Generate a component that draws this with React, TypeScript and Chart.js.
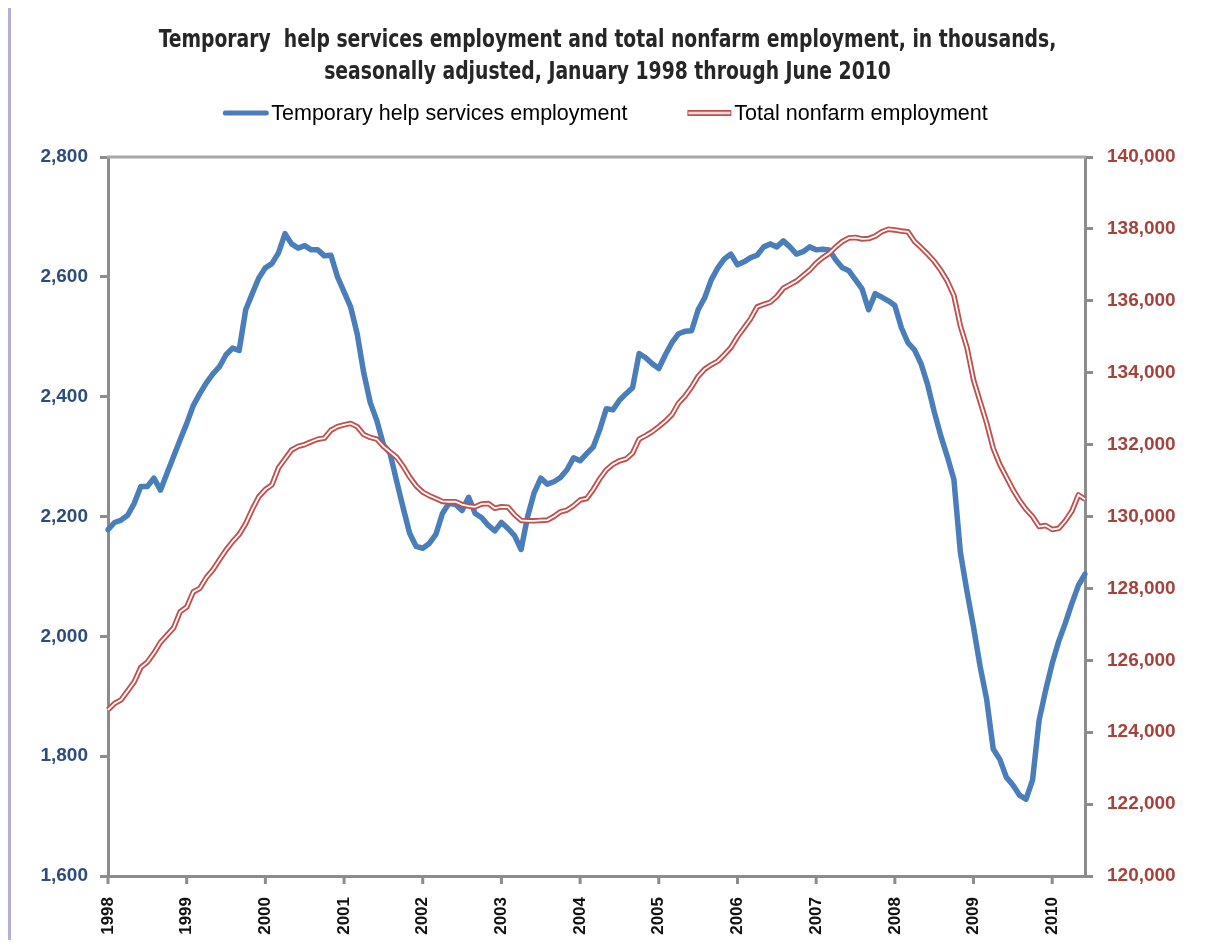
import React, { useEffect, useRef } from "react";
import { Chart, registerables } from "chart.js";

Chart.register(...registerables);

const TITLE_LINES = [
  "Temporary  help services employment and total nonfarm employment, in thousands,",
  "seasonally adjusted, January 1998 through June 2010",
];

const YEARS = [1998, 1999, 2000, 2001, 2002, 2003, 2004, 2005, 2006, 2007, 2008, 2009, 2010];
const MONTHS_IN_LAST_YEAR = 6;

const TEMP_HELP_LABEL = "Temporary help services employment";
const NONFARM_LABEL = "Total nonfarm employment";

// Temporary help services employment (thousands), Jan 1998 - Jun 2010
const tempHelp = [
  // 1998
  2178, 2190, 2194, 2202, 2222, 2250, 2250, 2264, 2244, 2272, 2300, 2328,
  // 1999
  2355, 2385, 2405, 2423, 2438, 2450, 2470, 2481, 2477, 2545, 2572, 2598,
  // 2000
  2615, 2622, 2640, 2672, 2655, 2648, 2652, 2645, 2645, 2635, 2636, 2600,
  // 2001
  2575, 2550, 2505, 2440, 2390, 2360, 2320, 2306, 2260, 2215, 2172, 2150,
  // 2002
  2147, 2155, 2170, 2205, 2222, 2220, 2210, 2232, 2205, 2198, 2185, 2176,
  // 2003
  2190, 2180, 2168, 2145, 2200, 2240, 2264, 2254, 2258, 2265, 2278, 2298,
  // 2004
  2293, 2305, 2316, 2345, 2380, 2378, 2394, 2405, 2415, 2472, 2465, 2455,
  // 2005
  2447, 2470, 2490, 2505, 2509, 2510, 2545, 2565, 2595, 2615, 2630, 2638,
  // 2006
  2620, 2625, 2632, 2636, 2650, 2655, 2650, 2660, 2650, 2638, 2642, 2650,
  // 2007
  2645, 2646, 2645, 2628, 2615, 2610, 2595, 2580, 2545, 2572, 2566, 2560,
  // 2008
  2552, 2515, 2490, 2478, 2455, 2420, 2375, 2335, 2300, 2262, 2140, 2075,
  // 2009
  2015, 1950, 1895, 1812, 1795, 1765, 1752, 1735, 1728, 1760, 1860, 1910,
  // 2010
  1955, 1992, 2022, 2055, 2085, 2104,
];

// Total nonfarm employment (thousands), Jan 1998 - Jun 2010
const totalNonfarm = [
  // 1998
  124620, 124800, 124900, 125150, 125400, 125800, 125950, 126200, 126500, 126700, 126900, 127350,
  // 1999
  127480, 127900, 128000, 128300, 128520, 128800, 129070, 129300, 129500, 129800, 130200, 130550,
  // 2000
  130750, 130880, 131350, 131600, 131850, 131950, 132000, 132080, 132150, 132180, 132400, 132500,
  // 2001
  132550, 132590, 132500, 132280, 132200, 132150, 131950, 131800, 131650, 131400, 131100, 130850,
  // 2002
  130680, 130580, 130500, 130420, 130410, 130410, 130330, 130290, 130270, 130350, 130360, 130230,
  // 2003
  130270, 130260, 130050, 129890, 129880, 129880, 129890, 129900, 130000, 130130, 130180, 130300,
  // 2004
  130460, 130500, 130750, 131050, 131300, 131450, 131550, 131600, 131760, 132150, 132250, 132360,
  // 2005
  132500, 132650, 132830, 133150, 133350, 133600, 133900, 134100, 134220, 134320, 134500, 134700,
  // 2006
  135000, 135250, 135500, 135830, 135900, 135960, 136120, 136350, 136450, 136550, 136700, 136850,
  // 2007
  137050, 137200, 137320, 137500, 137650, 137750, 137760, 137720, 137730, 137800, 137920, 137990,
  // 2008
  137970, 137940, 137920, 137650, 137480, 137300, 137100, 136850, 136550, 136150, 135300, 134700,
  // 2009
  133800, 133200, 132600, 131900, 131450, 131100, 130750, 130450, 130200, 130000, 129720, 129750,
  // 2010
  129640, 129670, 129880, 130150, 130600, 130480,
];

const LEFT_TICKS = { min: 1600, max: 2800, step: 200 };
const RIGHT_TICKS = { min: 120000, max: 140000, step: 2000 };

const monthLabels: string[] = [];
YEARS.forEach((y, yi) => {
  const n = yi === YEARS.length - 1 ? MONTHS_IN_LAST_YEAR : 12;
  for (let m = 0; m < n; m++) monthLabels.push(m === 0 ? String(y) : `${y}-${String(m + 1).padStart(2, "0")}`);
});

const BLUE = "#4a7ebb";
const RED = "#c0504d";
const AXIS_GRAY = "#8c8c8c";
const NUM_FONT = "'Liberation Sans', Arial, sans-serif";
const TITLE_FONT = "'DejaVu Sans Condensed', 'DejaVu Sans', sans-serif";
const TITLE_STRETCH = 0.835;
const X_TICK_LEN = 8;

const fmt = (v: number) => Number(v).toLocaleString("en-US");

const titleFrameLegend = {
  id: "titleFrameLegend",
  beforeDatasetsDraw(chart: any) {
    const { ctx, chartArea } = chart;
    ctx.save();
    ctx.strokeStyle = "#a8a8a8";
    ctx.lineWidth = 3;
    ctx.beginPath();
    ctx.moveTo(chartArea.left - 1, chartArea.top);
    ctx.lineTo(chartArea.right + 1, chartArea.top);
    ctx.stroke();
    // year tick marks below the category axis
    const xs = chart.scales.x;
    ctx.strokeStyle = AXIS_GRAY;
    ctx.lineWidth = 3;
    ctx.lineCap = "butt";
    monthLabels.forEach((_l, i) => {
      if (i % 12 !== 0) return;
      const px = xs.getPixelForValue(i);
      ctx.beginPath();
      ctx.moveTo(px, chartArea.bottom);
      ctx.lineTo(px, chartArea.bottom + X_TICK_LEN);
      ctx.stroke();
    });
    ctx.restore();
  },
  afterDraw(chart: any) {
    const { ctx } = chart;
    // Title (condensed bold)
    ctx.save();
    ctx.font = `bold 25px ${TITLE_FONT}`;
    ctx.fillStyle = "#262626";
    ctx.textAlign = "center";
    ctx.textBaseline = "middle";
    const cx = chart.width / 2 + 1.5;
    TITLE_LINES.forEach((line, i) => {
      ctx.save();
      ctx.translate(cx, 32 + i * 32);
      ctx.scale(TITLE_STRETCH, 1);
      ctx.fillText(line, 0, 0);
      ctx.restore();
    });
    ctx.restore();

    // Legend
    const ds = chart.data.datasets;
    const items = [ds[2], ds[1]];
    ctx.save();
    ctx.font = `21.5px ${NUM_FONT}`;
    ctx.textBaseline = "middle";
    ctx.textAlign = "left";
    const sampleW = 46;
    const gapText = 3;
    const gapItems = 58;
    const widths = items.map((d: any) => ctx.measureText(d.label).width);
    const total = items.length * (sampleW + gapText) + widths.reduce((a: number, b: number) => a + b, 0) + gapItems;
    let x = chart.width / 2 - 1 - total / 2;
    const y = 105;
    items.forEach((d: any, i: number) => {
      if (d.legendKind === "double") {
        ctx.lineCap = "butt";
        ctx.strokeStyle = d.borderColor;
        ctx.lineWidth = 6;
        ctx.beginPath();
        ctx.moveTo(x + 2, y);
        ctx.lineTo(x + sampleW, y);
        ctx.stroke();
        ctx.strokeStyle = "#f6d9d8";
        ctx.lineWidth = 2.5;
        ctx.beginPath();
        ctx.moveTo(x + 3, y);
        ctx.lineTo(x + sampleW - 1, y);
        ctx.stroke();
      } else {
        ctx.lineCap = "round";
        ctx.strokeStyle = d.borderColor;
        ctx.lineWidth = 5;
        ctx.beginPath();
        ctx.moveTo(x + 3, y);
        ctx.lineTo(x + sampleW - 2, y);
        ctx.stroke();
      }
      ctx.fillStyle = "#000";
      ctx.fillText(d.label, x + sampleW + gapText, y + 1);
      x += sampleW + gapText + widths[i] + gapItems;
    });
    ctx.restore();
  },
};

export default function App() {
  const canvasRef = useRef<HTMLCanvasElement | null>(null);

  useEffect(() => {
    if (!canvasRef.current) return;
    const chart = new Chart(canvasRef.current, {
      type: "line",
      data: {
        labels: monthLabels,
        datasets: [
          {
            label: "",
            data: totalNonfarm,
            yAxisID: "y1",
            borderColor: "#ffffff",
            borderWidth: 1.8,
            pointRadius: 0,
            tension: 0,
            fill: false,
          } as any,
          {
            label: NONFARM_LABEL,
            data: totalNonfarm,
            yAxisID: "y1",
            borderColor: RED,
            borderWidth: 5.5,
            pointRadius: 0,
            tension: 0,
            fill: false,
            borderJoinStyle: "round",
            legendKind: "double",
          } as any,
          {
            label: TEMP_HELP_LABEL,
            data: tempHelp,
            yAxisID: "y",
            borderColor: BLUE,
            borderWidth: 5.5,
            pointRadius: 0,
            tension: 0,
            fill: false,
            borderJoinStyle: "round",
            borderCapStyle: "round",
            legendKind: "solid",
          } as any,
        ],
      },
      options: {
        responsive: false,
        animation: false,
        events: [],
        layout: { padding: { top: 149, left: 0, right: 0, bottom: 0 } },
        plugins: {
          legend: { display: false },
          tooltip: { enabled: false },
          title: { display: false },
        },
        scales: {
          x: {
            type: "category",
            offset: false,
            grid: { display: false, drawOnChartArea: false },
            border: { display: true, color: AXIS_GRAY, width: 3 },
            ticks: {
              autoSkip: false,
              maxRotation: 90,
              minRotation: 90,
              padding: 13,
              color: "#111",
              font: { family: NUM_FONT, size: 17, weight: "bold" },
              callback: (_v: any, i: number) => (i % 12 === 0 ? monthLabels[i] : null),
            },
            afterFit: (s: any) => {
              s.height = 64;
            },
          },
          y: {
            type: "linear",
            position: "left",
            min: LEFT_TICKS.min,
            max: LEFT_TICKS.max,
            grid: {
              display: true,
              drawOnChartArea: false,
              drawTicks: true,
              tickLength: 8,
              color: AXIS_GRAY,
              lineWidth: 3,
            },
            border: { display: true, color: AXIS_GRAY, width: 3 },
            ticks: {
              stepSize: LEFT_TICKS.step,
              padding: 12,
              color: "#2c4c7e",
              font: { family: NUM_FONT, size: 19, weight: "bold" },
              callback: (v: any) => fmt(v),
            },
            afterFit: (s: any) => {
              s.width = 100;
            },
          },
          y1: {
            type: "linear",
            position: "right",
            min: RIGHT_TICKS.min,
            max: RIGHT_TICKS.max,
            grid: {
              display: true,
              drawOnChartArea: false,
              drawTicks: true,
              tickLength: 8,
              color: AXIS_GRAY,
              lineWidth: 3,
            },
            border: { display: true, color: AXIS_GRAY, width: 3 },
            ticks: {
              stepSize: RIGHT_TICKS.step,
              padding: 14,
              color: "#a5423c",
              font: { family: NUM_FONT, size: 19, weight: "bold" },
              callback: (v: any) => fmt(v),
            },
            afterFit: (s: any) => {
              s.width = 119;
            },
          },
        },
      } as any,
      plugins: [titleFrameLegend],
    });
    return () => chart.destroy();
  }, []);

  return (
    <div style={{ position: "relative", width: 1196, height: 932, background: "#fff" }}>
      <canvas
        ref={canvasRef}
        width={1196}
        height={932}
        style={{ position: "absolute", left: 0, top: 0, display: "block" }}
      />
      <div
        style={{
          position: "absolute",
          left: -1,
          top: 0,
          width: 4,
          height: "100%",
          background: "#b9acd9",
        }}
      />
      <div
        style={{
          position: "absolute",
          left: 0,
          top: -1,
          width: "100%",
          borderTop: "1px dotted #c9bde6",
        }}
      />
    </div>
  );
}
